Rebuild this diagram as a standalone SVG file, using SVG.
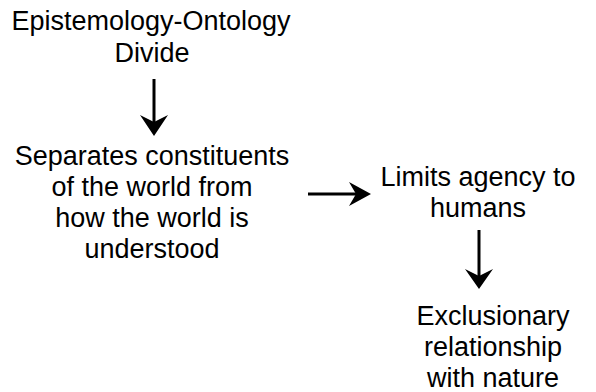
<svg xmlns="http://www.w3.org/2000/svg" width="596" height="392" viewBox="0 0 596 392">
  <defs>
    <style>
      text { font-family: "Liberation Sans", Arial, Helvetica, sans-serif; font-size: 27px; fill: #000; text-anchor: middle; }
      .edge { stroke: #000; stroke-width: 3; fill: none; }
      .head { fill: #000; stroke: none; }
    </style>
  </defs>
  <rect width="596" height="392" fill="#fff"/>
  <g id="n1">
    <text x="151" y="30">Epistemology-Ontology</text>
    <text x="152" y="62">Divide</text>
  </g>
  <g id="n2">
    <text x="152" y="165">Separates constituents</text>
    <text x="152" y="196">of the world from</text>
    <text x="152" y="227">how the world is</text>
    <text x="152" y="258">understood</text>
  </g>
  <g id="n3">
    <text x="478" y="186">Limits agency to</text>
    <text x="478" y="217">humans</text>
  </g>
  <g id="n4">
    <text x="493" y="325">Exclusionary</text>
    <text x="493" y="356">relationship</text>
    <text x="493" y="387">with nature</text>
  </g>
  <g id="edges">
    <line class="edge" x1="154" y1="79" x2="154" y2="125"/>
    <path class="head" d="M154 136 L140 115 L154 122 L168 115 Z"/>
    <line class="edge" x1="308" y1="194" x2="358" y2="194"/>
    <path class="head" d="M371 194 L349 182 L356 194 L349 206 Z"/>
    <line class="edge" x1="479" y1="230" x2="479" y2="278"/>
    <path class="head" d="M479 289 L465 269 L479 276 L493 269 Z"/>
  </g>
</svg>
